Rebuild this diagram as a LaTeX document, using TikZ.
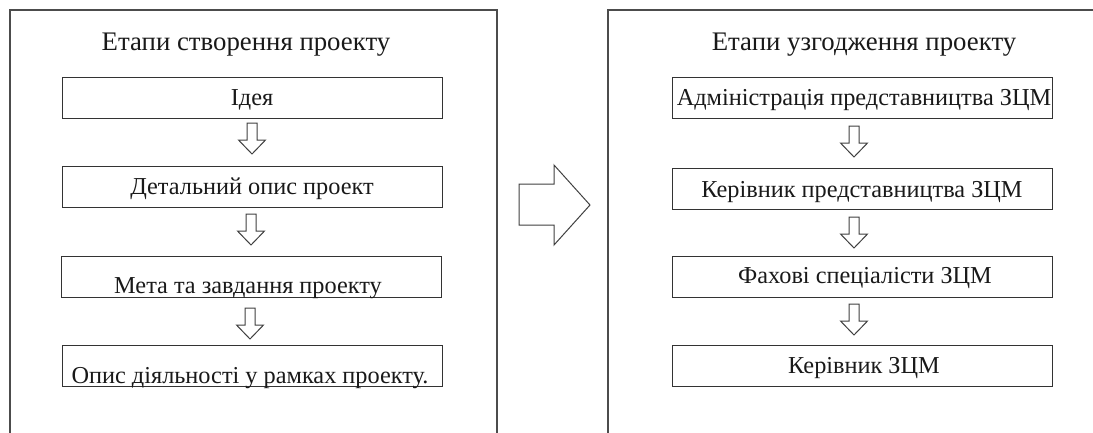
\documentclass[tikz,border=0pt]{standalone}
\usepackage{fontspec}
\setmainfont{Liberation Serif}
\newcommand{\bdarrow}[1]{\draw[arr] #1 ++(-5,0) -- ++(0,17) -- ++(-8.5,0) -- ++(13.5,14) -- ++(13.5,-14) -- ++(-8.5,0) -- ++(0,-17) -- cycle;}
\begin{document}
\begin{tikzpicture}[x=1pt,y=-1pt,
  frame/.style={draw=black!70, line width=1.4pt},
  box/.style={draw=black!80, line width=1.3pt, minimum width=380pt, minimum height=41pt, inner sep=0pt, anchor=north west},
  lbl/.style={anchor=base, inner sep=0pt, font=\fontsize{24.3}{29}\selectfont, text=black!90},
  ttl/.style={anchor=base, inner sep=0pt, font=\fontsize{26.8}{32}\selectfont, text=black!90},
  arr/.style={draw=black!75, line width=1pt, line join=miter, fill=white}]
\useasboundingbox (0,0) rectangle (1093,432);
% frames
\draw[frame] (10,440) -- (10,10) -- (497,10) -- (497,440);
\draw[frame] (608,440) -- (608,10) -- (1100,10);
% left column
\node[ttl] (t1) at (246,50) {Етапи створення  проекту};
\node[box] (l1) at (62,77) {};
\node[box] (l2) at (62,166) {};
\node[box] (l3) at (61,256) {};
\node[box] (l4) at (62,345) {};
\node[lbl] (l1t) at (252,105) {Ідея};
\node[lbl] (l2t) at (252,194) {Детальний опис проект};
\node[lbl] (l3t) at (248,293) {Мета та завдання проекту};
\node[lbl] (l4t) at (250,383) {Опис діяльності у рамках проекту.};
\coordinate (la1) at (252,123);
\coordinate (la2) at (251,214);
\coordinate (la3) at (250,308);
\bdarrow{(la1)}
\bdarrow{(la2)}
\bdarrow{(la3)}
% big arrow
\draw[arr] (519,184) -- (554,184) -- (554,165) -- (590,205) -- (554,245) -- (554,225) -- (519,225) -- cycle;
% right column
\node[ttl] (t2) at (864,50) {Етапи узгодження  проекту};
\node[box] (r1) at (672,77) {};
\node[box] (r2) at (672,168) {};
\node[box] (r3) at (672,256) {};
\node[box] (r4) at (672,345) {};
\node[lbl] (r1t) at (864,105) {Адміністрація представництва ЗЦМ};
\node[lbl] (r2t) at (862,197) {Керівник представництва ЗЦМ};
\node[lbl] (r3t) at (865,283) {Фахові спеціалісти ЗЦМ};
\node[lbl] (r4t) at (864,373) {Керівник ЗЦМ};
\coordinate (ra1) at (854,126);
\coordinate (ra2) at (854,217);
\coordinate (ra3) at (854,304);
\bdarrow{(ra1)}
\bdarrow{(ra2)}
\bdarrow{(ra3)}
\end{tikzpicture}
\end{document}
